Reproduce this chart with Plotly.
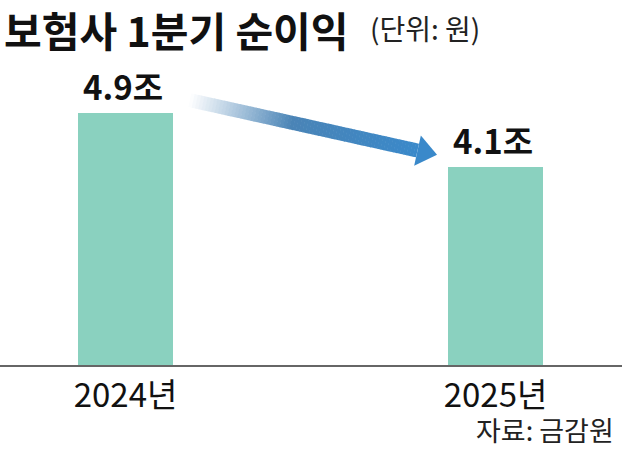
import plotly.graph_objects as go
import numpy as np

# ---- data ----
years = ["2024년", "2025년"]
profit = [4.9, 4.1]          # 조 원
value_labels = ["4.9조", "4.1조"]
title_text = "보험사 1분기 순이익"
unit_text = "(단위: 원)"
source_text = "자료: 금감원"

# ---- layout geometry ----
W, H = 622, 451
L, R, T, B = 0, 0, 60, 86
pw, ph = W - L - R, H - T - B
x_range = [-0.3392, 1.3419]
y_range = [1.1667, 5.685]

KR = "Noto Sans CJK KR"

def to_px(x, y):
    px = L + (x - x_range[0]) / (x_range[1] - x_range[0]) * pw
    py = H - B - (y - y_range[0]) / (y_range[1] - y_range[0]) * ph
    return np.array([px, py])

def to_data(p):
    x = x_range[0] + (p[0] - L) / pw * (x_range[1] - x_range[0])
    y = y_range[0] + (H - B - p[1]) / ph * (y_range[1] - y_range[0])
    return x, y

xpos = list(range(len(years)))

fig = go.Figure()
fig.add_trace(go.Bar(
    x=xpos, y=profit, width=0.257,
    marker=dict(color="#8ad1bf", line=dict(width=0)),
    hoverinfo="skip",
))

# value labels
for xi, v, lab in zip(xpos, profit, value_labels):
    fig.add_annotation(x=xi, y=v, xref="x", yref="y", text=f"<b>{lab}</b>",
                       showarrow=False, yanchor="bottom", xanchor="center",
                       yshift=1, xshift=-3,
                       font=dict(family=KR, size=33, color="#111"))

# gradient arrow from 2024 label toward 2025 label
start = to_px(0.174, 5.09)
tip = to_px(0.842, 4.28)
d = tip - start
length = np.hypot(*d)
u = d / length
n = np.array([-u[1], u[0]])
head_len, head_half, shaft_half = 20.0, 15.5, 7.0
shaft_end = tip - u * head_len
c_end = np.array([58, 137, 202])
c_mid = np.array([74, 132, 182])
white = np.array([255, 255, 255])
N = 70
for i in range(N):
    t0, t1 = i / N, min((i + 1.15) / N, 1.0)
    a = start + (shaft_end - start) * t0
    b = start + (shaft_end - start) * t1
    tm = (i + 0.5) / N
    if tm < 0.45:
        f = tm / 0.45
        col = white * (1 - f) + c_mid * f
    else:
        f = (tm - 0.45) / 0.55
        col = c_mid * (1 - f) + c_end * f
    col = "rgb(%d,%d,%d)" % tuple(col.round().astype(int))
    pts = [a + n * shaft_half, b + n * shaft_half, b - n * shaft_half, a - n * shaft_half]
    dp = [to_data(p) for p in pts]
    path = "M " + " L ".join(f"{x},{y}" for x, y in dp) + " Z"
    fig.add_shape(type="path", path=path, xref="x", yref="y",
                  fillcolor=col, line=dict(width=0), layer="above")
head = [shaft_end + n * head_half, tip, shaft_end - n * head_half]
dp = [to_data(p) for p in head]
fig.add_shape(type="path", path="M " + " L ".join(f"{x},{y}" for x, y in dp) + " Z",
              xref="x", yref="y", fillcolor="rgb(58,137,202)", line=dict(width=0), layer="above")

# title + unit
fig.add_annotation(x=0.003, y=(H - B - 29) / ph, xref="paper", yref="paper",
                   text=f"<b>{title_text}</b>", showarrow=False,
                   xanchor="left", yanchor="middle",
                   font=dict(family=KR, size=41, color="#111"))
fig.add_annotation(x=368 / W, y=(H - B - 28) / ph, xref="paper", yref="paper",
                   text=unit_text, showarrow=False, xanchor="left", yanchor="middle",
                   font=dict(family=KR, size=28, color="#222"))
# source
fig.add_annotation(x=616 / W, y=(H - B - 451) / ph, xref="paper", yref="paper",
                   text=source_text, showarrow=False, xanchor="right", yanchor="bottom",
                   font=dict(family=KR, size=27, color="#222"))

fig.update_layout(
    width=W, height=H,
    margin=dict(l=L, r=R, t=T, b=B, autoexpand=False),
    paper_bgcolor="white", plot_bgcolor="white",
    showlegend=False,
    bargap=0,
    xaxis=dict(range=x_range, tickvals=xpos, ticktext=years,
               showgrid=False, zeroline=False, showline=True,
               linecolor="#666", linewidth=2, ticks="", ticklabelstandoff=0,
               automargin=False,
               tickfont=dict(family=KR, size=33, color="#111"), fixedrange=True),
    yaxis=dict(range=y_range, visible=False, showgrid=False, fixedrange=True),
)

fig.write_html("out.html", config={"displayModeBar": False},
               post_script="document.body.style.margin='0';document.body.style.overflow='hidden';")
